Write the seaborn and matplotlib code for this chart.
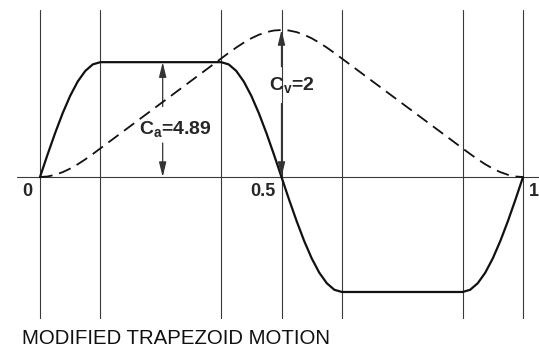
import matplotlib
matplotlib.use("Agg")
import matplotlib.pyplot as plt
import seaborn as sns

# ---- data ----
t = [0.0, 0.0156, 0.0313, 0.0469, 0.0625, 0.0781, 0.0938, 0.1094, 0.125,
     0.375, 0.3906, 0.4063, 0.4219, 0.4375, 0.4531, 0.4688, 0.4844, 0.5,
     0.5156, 0.5313, 0.5469, 0.5625, 0.5781, 0.5938, 0.6094, 0.625,
     0.875, 0.8906, 0.9063, 0.9219, 0.9375, 0.9531, 0.9688, 0.9844, 1.0]
acceleration = [0, 0.954, 1.871, 2.717, 3.458, 4.066, 4.518, 4.796, 4.89,
                4.89, 4.796, 4.518, 4.066, 3.458, 2.717, 1.871, 0.954, 0,
                -0.954, -1.871, -2.717, -3.458, -4.066, -4.518, -4.796, -4.89,
                -4.89, -4.796, -4.518, -4.066, -3.458, -2.717, -1.871, -0.954, 0]
velocity = [0, 0.007, 0.030, 0.066, 0.114, 0.173, 0.240, 0.313, 0.389,
            1.612, 1.688, 1.761, 1.828, 1.887, 1.935, 1.971, 1.993, 2.0,
            1.993, 1.971, 1.935, 1.887, 1.828, 1.761, 1.688, 1.612,
            0.389, 0.313, 0.240, 0.173, 0.114, 0.066, 0.030, 0.007, 0]
grid_x = [0, 0.125, 0.375, 0.5, 0.625, 0.875, 1.0]
tick_pos = [0, 0.5, 1]
tick_labels = ["0", "0.5", "1"]
ca_value = 4.89
cv_value = 2.0
title = "MODIFIED TRAPEZOID MOTION"

sns.set_style("white")
plt.rcParams["font.family"] = ["Liberation Sans", "DejaVu Sans"]
plt.rcParams["mathtext.fontset"] = "custom"
plt.rcParams["mathtext.rm"] = "Liberation Sans:bold"
plt.rcParams["mathtext.it"] = "Liberation Sans:bold"
plt.rcParams["mathtext.bf"] = "Liberation Sans:bold"

W, H = 539, 349
fig = plt.figure(figsize=(W / 100, H / 100), dpi=100)
fig.patch.set_facecolor("white")
ax = fig.add_axes([17 / W, 30 / H, 522 / W, 309 / H])
ax.set_xlim(-0.0476, 1.0331)
ax.set_ylim(-6.04, 7.11)
ax.axis("off")

for gx in grid_x:
    ax.axvline(gx, color="#3a3a3a", lw=0.8, zorder=1)
ax.axhline(0, color="#3a3a3a", lw=0.8, zorder=1)

sns.lineplot(x=t, y=acceleration, ax=ax, color="#111111", lw=1.6,
             estimator=None, zorder=3)

ax2 = ax.twinx()
ax2.set_ylim(-1.932, 2.272)
ax2.axis("off")
sns.lineplot(x=t, y=velocity, ax=ax2, color="#111111", lw=1.3,
             linestyle=(0, (7, 3.8)), estimator=None, zorder=3)
ax2.set_xlim(ax.get_xlim())

arrow = dict(arrowstyle="-|>,head_length=0.9,head_width=0.22", color="#333333",
             lw=0.9, shrinkA=0, shrinkB=0, mutation_scale=10)
xa = 0.254
ax.annotate("", xy=(xa, ca_value), xytext=(xa, 3.0), arrowprops=arrow)
ax.annotate("", xy=(xa, 0), xytext=(xa, 1.45), arrowprops=arrow)
ax.text(0.2805, 2.05, r"$\mathrm{C_a}$=4.89", ha="center", va="center",
        fontsize=14, fontweight="bold")

ax2.annotate("", xy=(0.5, cv_value), xytext=(0.5, 1.5), arrowprops=arrow)
ax2.annotate("", xy=(0.5, 0), xytext=(0.5, 1.0), arrowprops=arrow)
ax2.text(0.5217, 1.25, r"$\mathrm{C_v}$=2", ha="center", va="center",
         fontsize=14, fontweight="bold")

label_x = {"0": -0.027, "0.5": 0.4607, "1": 1.0228}
for p, lab in zip(tick_pos, tick_labels):
    ax.text(label_x[lab], -0.62, lab, ha="center", va="center",
            fontsize=13, fontweight="bold")

fig.text(22 / W, 1.0 / H, title, ha="left", va="bottom", fontsize=14.7,
         color="#111111")

fig.savefig("out.png", dpi=100)
